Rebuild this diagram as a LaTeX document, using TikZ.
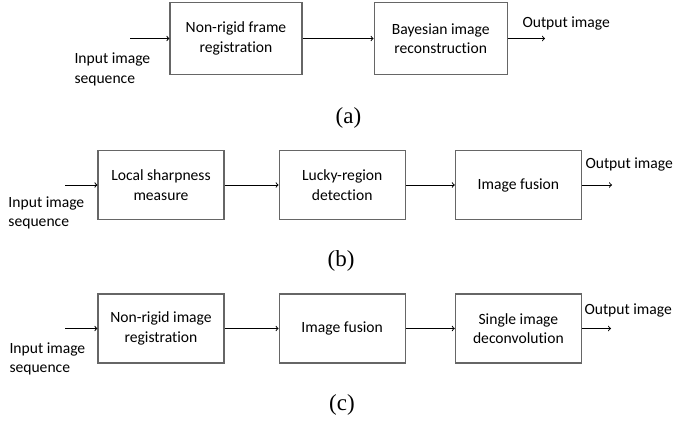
\documentclass[tikz,border=0pt]{standalone}
\usepackage{fontspec}
\setmainfont[Ligatures=NoCommon]{Carlito}
\newfontfamily\capfont{Liberation Serif}
\usetikzlibrary{arrows,positioning}

\begin{document}
\begin{tikzpicture}[x=1pt,y=-1pt,line width=1pt]
	\tikzstyle{block}=[draw=black!60, line width=1.2pt, minimum width=126pt, minimum height=69pt, align=center, inner sep=0pt, font=\fontsize{15.6}{19.5}\selectfont]
	\tikzstyle{txt}=[align=left, inner sep=0pt, font=\fontsize{15.6}{19.5}\selectfont]
	\tikzstyle{subcap}=[inner sep=0pt, font=\capfont\fontsize{23}{26}\selectfont]
	\useasboundingbox (0,0) rectangle (675,421);

	% (a)
	\node[block, minimum width=132pt, minimum height=72pt] (regA) at (236,38.5) {Non-rigid frame\\registration};
	\node[block, minimum width=133pt, minimum height=72pt, right=71pt of regA] (bayA) {Bayesian image\\reconstruction};
	\node[txt, anchor=west] (inA) at (74,69.5) {Input image\\sequence};
	\node[txt, anchor=west] (outA) at (522,23) {Output image};
	\coordinate (srcA) at (130,38.5);
	\coordinate (dstA) at (545,38.5);
	\draw[->] (srcA) -- (regA);
	\draw[->] (regA) -- (bayA);
	\draw[->] (bayA) -- (dstA);
	\node[subcap] (capA) at (348.5,118) {(a)};

	% (b)
	\node[block] (sharpB) at (161,185) {Local sharpness\\measure};
	\node[block, right=54pt of sharpB] (luckyB) {Lucky-region\\detection};
	\node[block, right=49pt of luckyB] (fuseB) {Image fusion};
	\node[txt, anchor=west] (inB) at (8,213) {Input image\\sequence};
	\node[txt, anchor=west] (outB) at (585,164) {Output image};
	\coordinate (srcB) at (65,185);
	\coordinate (dstB) at (612,185);
	\draw[->] (srcB) -- (sharpB);
	\draw[->] (sharpB) -- (luckyB);
	\draw[->] (luckyB) -- (fuseB);
	\draw[->] (fuseB) -- (dstB);
	\node[subcap] (capB) at (341,261) {(b)};

	% (c)
	\node[block] (regC) at (161,328.5) {Non-rigid image\\registration};
	\node[block, right=54pt of regC] (fuseC) {Image fusion};
	\node[block, right=49pt of fuseC] (deconvC) {Single image\\deconvolution};
	\node[txt, anchor=west] (inC) at (9,359) {Input image\\sequence};
	\node[txt, anchor=west] (outC) at (584,310) {Output image};
	\coordinate (srcC) at (65,328.5);
	\coordinate (dstC) at (611,328.5);
	\draw[->] (srcC) -- (regC);
	\draw[->] (regC) -- (fuseC);
	\draw[->] (fuseC) -- (deconvC);
	\draw[->] (deconvC) -- (dstC);
	\node[subcap] (capC) at (342,405) {(c)};
\end{tikzpicture}
\end{document}
